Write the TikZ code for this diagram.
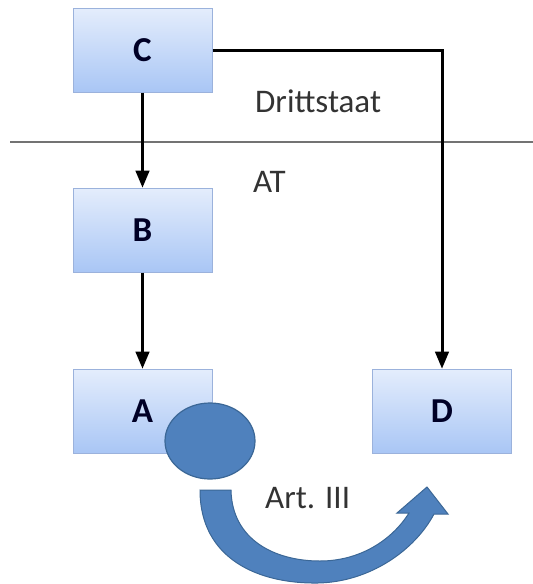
\documentclass[tikz,border=0pt]{standalone}
\usepackage{fontspec}
\setmainfont{Carlito}
\usepackage{xcolor}
\usepackage{tikz}
\usetikzlibrary{positioning}
\usetikzlibrary{arrows}
\usetikzlibrary{shapes.geometric}

\definecolor{boxtop}{HTML}{E4EDFC}
\definecolor{boxbottom}{HTML}{A9C6F5}
\definecolor{boxline}{HTML}{9BB2DC}
\definecolor{bubble}{HTML}{4F81BD}
\definecolor{bubbleline}{HTML}{3B6796}

\tikzset{
  stategbox/.style={rectangle,draw=boxline,line width=1pt,top color=boxtop,bottom color=boxbottom,
    minimum width=139pt,minimum height=84pt,font=\fontsize{35}{35}\selectfont\bfseries,text=black!85!blue},
  lbl/.style={font=\fontsize{33}{33}\selectfont,text=black!80,inner sep=0pt,anchor=base west},
}

\begin{document}
\begin{tikzpicture}[x=1pt,y=-1pt,>=triangle 45]
      \useasboundingbox (0,0) rectangle (533,584);
      \node (C) [stategbox] at (142.5,50) {C};
      \node (B) [stategbox] at (142.5,230) {B};
      \node (A) [stategbox] at (142.5,411) {A};
      \node (D) [stategbox] at (442,411) {D};
      % border between third state and AT
      \coordinate (borderL) at (10,142);
      \coordinate (borderR) at (533,142);
      \draw [black!55,line width=1.5pt] (borderL) -- (borderR);
      \node (drittstaat) [lbl] at (255,112) {Drittstaat};
      \node (at) [lbl] at (253,192) {AT};
      \draw [line width=3pt,->] (C) -- (B);
      \draw [line width=3pt,->] (B) -- (A);
      \draw [line width=3pt,->] (C.east) -| (D.north);
      % treaty bubble and arrow
      \node (treaty) [ellipse,fill=bubble,draw=bubbleline,line width=1.2pt,minimum width=90pt,minimum height=76pt] at (210,441) {};
      \fill [bubble,draw=bubbleline,line width=1pt]
        (200,490) .. controls (200,560) and (260,584) .. (318,583)
        .. controls (370,582) and (415,550) .. (434,514)
        -- (448,514) -- (427,487) -- (397,513) -- (409,513)
        .. controls (392,540) and (360,561) .. (320,561)
        .. controls (275,561) and (232,540) .. (231,490) -- cycle;
      \node (art) [lbl] at (265,508) {Art. III};
    \end{tikzpicture}
\end{document}
